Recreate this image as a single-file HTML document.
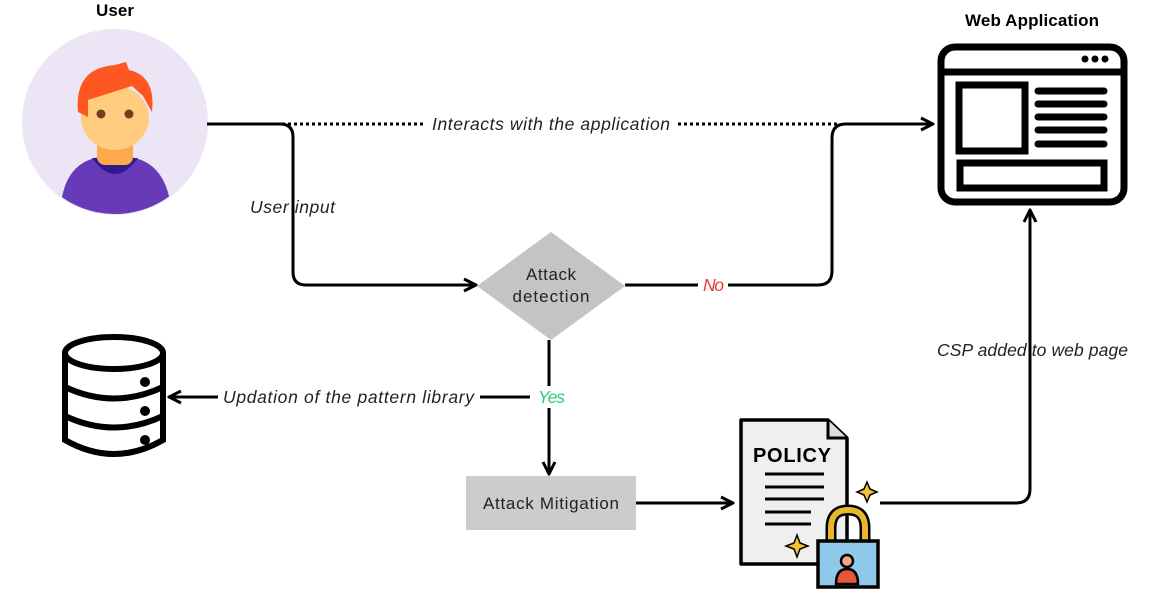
<!DOCTYPE html>
<html><head><meta charset="utf-8"><style>
body{margin:0;background:#fff;width:1150px;height:595px;overflow:hidden}
svg text{font-family:"Liberation Sans",sans-serif}
.lbl{font-style:italic;font-size:17.5px;fill:#222}
</style></head><body>
<svg width="1150" height="595" viewBox="0 0 1150 595">
<defs><marker id="a" viewBox="0 0 10 10" refX="9" refY="5" markerWidth="5" markerHeight="5" orient="auto"><path d="M1 1L9 5L1 9" fill="none" stroke="#000" stroke-width="2"/></marker></defs>
<text x="115" y="16" text-anchor="middle" font-weight="bold" font-size="17" textLength="38">User</text>
<circle cx="115" cy="122" r="93" fill="#ebe5f5"/>
<clipPath id="c"><circle cx="115" cy="122" r="92"/></clipPath>
<g clip-path="url(#c)">
<path d="M60 220 Q60 163 100 157 L130 157 Q170 163 172 220Z" fill="#673ab7"/>
<path d="M92 158 Q115 190 138 158Z" fill="#311b92"/>
<rect x="97" y="135" width="36" height="30" rx="8" fill="#ffa94d"/>
<ellipse cx="115" cy="118" rx="34" ry="32" fill="#ffcc80"/>
<path d="M78 112 Q74 68 115 65 L126 62 L129 70 Q156 76 152 112 L143 96 L132 86 L88 100 L88 117 Z" fill="#ff5722"/>
<circle cx="101" cy="114" r="4.5" fill="#6d4019"/><circle cx="129" cy="114" r="4.5" fill="#6d4019"/>
</g>
<g fill="none" stroke="#000" stroke-width="3">
<path d="M207 124 H280 Q293 124 293 137 V272 Q293 285 306 285 H476" marker-end="url(#a)"/>
<path d="M270 124 H425 M678 124 H840" stroke-dasharray="3 3"/>
<path d="M625 285 H698 M728 285 H818 Q832 285 832 271 V138 Q832 124 846 124 H933" marker-end="url(#a)"/>
<path d="M549 340 V386 M549 408 V474" marker-end="url(#a)"/>
<path d="M530 397 H480 M218 397 H169" marker-end="url(#a)"/>
<path d="M636 503 H733" marker-end="url(#a)"/>
<path d="M880 503 H1016 Q1030 503 1030 489 V210" marker-end="url(#a)"/>
</g>
<text class="lbl" x="432" y="130" textLength="238">Interacts with the application</text>
<text class="lbl" x="250" y="213" textLength="85">User input</text>
<text class="lbl" x="703" y="291" style="fill:#e53935" textLength="21">No</text>
<text class="lbl" x="538" y="403" style="fill:#2ecc71" textLength="27">Yes</text>
<text class="lbl" x="223" y="403" textLength="251">Updation of the pattern library</text>
<text class="lbl" x="937" y="356" textLength="191">CSP added to web page</text>
<polygon points="551,232 625,286 551,340 477,286" fill="#c4c4c4"/>
<text x="551" y="280" text-anchor="middle" font-size="17" fill="#222" textLength="50">Attack</text>
<text x="551" y="302" text-anchor="middle" font-size="17" fill="#222" textLength="77">detection</text>
<rect x="466" y="476" width="170" height="54" fill="#cccccc"/>
<text x="551" y="509" text-anchor="middle" font-size="17" fill="#222" textLength="136">Attack Mitigation</text>
<text x="1032" y="26" text-anchor="middle" font-weight="bold" font-size="17" textLength="134">Web Application</text>
<g fill="none" stroke="#000" stroke-width="7" stroke-linecap="round">
<rect x="941" y="47" width="183" height="155" rx="14"/>
<path d="M941 72 H1124"/>
<rect x="959" y="85" width="66" height="66"/>
<path d="M1038 91H1104M1038 104H1104M1038 117H1104M1038 130H1104M1038 144H1104"/>
<rect x="960" y="163" width="144" height="25"/>
</g>
<circle cx="1085" cy="59" r="3.5"/><circle cx="1095" cy="59" r="3.5"/><circle cx="1105" cy="59" r="3.5"/>
<g fill="none" stroke="#000" stroke-width="6">
<ellipse cx="114" cy="353" rx="49" ry="16"/>
<path d="M65 353 V440 Q114 468 163 440 V353"/>
<path d="M65 387 Q114 410 163 387 M65 416 Q114 439 163 416"/>
</g>
<circle cx="145" cy="382" r="5"/><circle cx="145" cy="411" r="5"/><circle cx="145" cy="440" r="5"/>
<path d="M741 420 H828 L847 438 V564 H741 Z" fill="#efefef" stroke="#000" stroke-width="3.5" stroke-linejoin="round"/>
<path d="M828 420 V438 H847" fill="#ddd" stroke="#000" stroke-width="3"/>
<text x="753" y="462" font-family="Liberation Mono" font-weight="bold" font-size="20" textLength="78">POLICY</text>
<path d="M765 474H824M765 487H824M765 499H824M765 512H811M765 524H811" stroke="#000" stroke-width="3"/>
<path d="M797 535 l3 8 8 3 -8 3 -3 8 -3 -8 -8 -3 8 -3z M867 482 l3 7 7 3 -7 3 -3 7 -3 -7 -7 -3 7 -3z" fill="#f4c430" stroke="#000" stroke-width="1.5"/>
<path d="M831 542 V528 Q831 510 848 510 Q865 510 865 528 V542" fill="none" stroke="#000" stroke-width="11"/>
<path d="M831 542 V528 Q831 510 848 510 Q865 510 865 528 V542" fill="none" stroke="#e9b82a" stroke-width="6"/>
<rect x="818" y="541" width="60" height="46" fill="#8ec9ea" stroke="#000" stroke-width="3.5"/>
<circle cx="847" cy="561" r="6" fill="#f6a58a" stroke="#000" stroke-width="2.5"/>
<path d="M836 584 Q836 569 847 569 Q858 569 858 584Z" fill="#e8553a" stroke="#000" stroke-width="2.5"/>
</svg>
</body></html>
